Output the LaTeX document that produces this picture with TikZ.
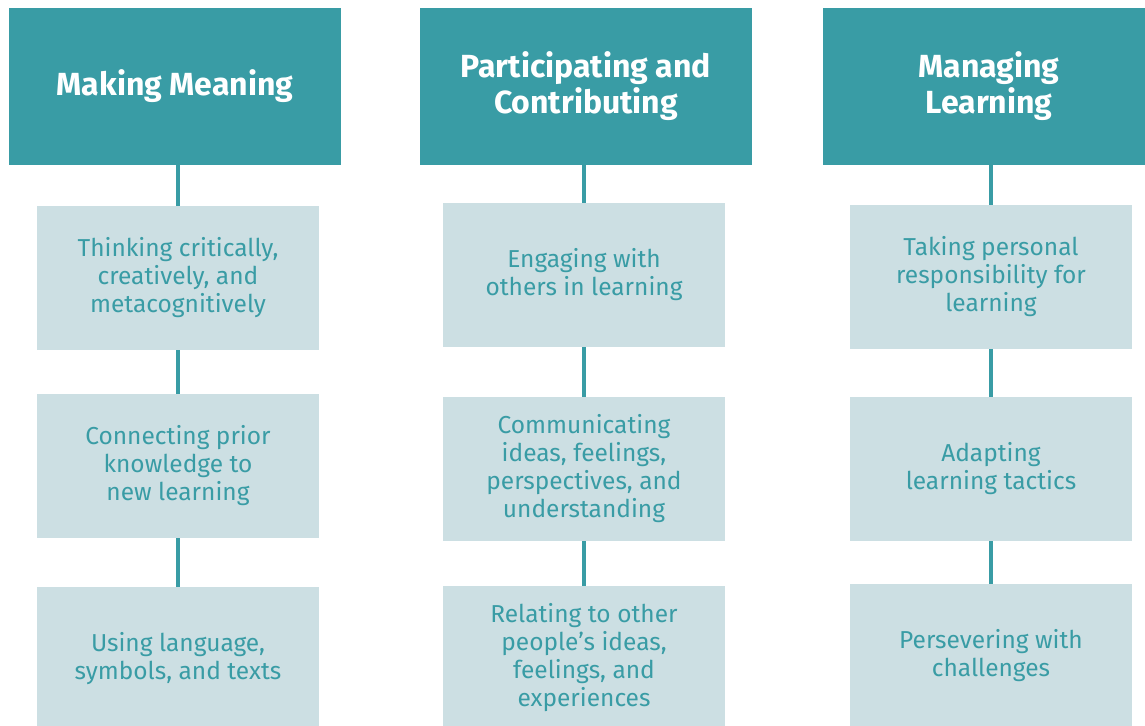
\documentclass[tikz,border=0pt]{standalone}
\usepackage{fontspec}
\setmainfont{Fira Sans}
\definecolor{kcteal}{HTML}{399CA5}
\definecolor{kclight}{HTML}{CCDFE3}
\tikzset{
 head/.style={fill=kcteal, text=white, minimum width=332pt, minimum height=157pt, inner sep=0pt, align=center, font=\fontsize{32}{36}\selectfont\bfseries},
 part/.style={fill=kclight, text=kcteal, minimum width=282pt, minimum height=144pt, inner sep=0pt, align=center, font=\fontsize{24.5}{28}\selectfont},
 link/.style={kcteal, line width=4pt}
}
\begin{document}
\begin{tikzpicture}[x=1pt, y=-1pt]
 \useasboundingbox (0,0) rectangle (1145,725);
 % column heads
 \node[head] (h1) at (175,86.5) {Making Meaning};
 \node[head] (h2) at (586,86.5) {Participating and\\Contributing};
 \node[head] (h3) at (989,86.5) {Managing\\Learning};
 % first column
 \node[part] (a1) at (178,278) {Thinking critically,\\creatively, and\\metacognitively};
 \node[part] (a2) at (178,466) {Connecting prior\\knowledge to\\new learning};
 \node[part] (a3) at (178,659) {Using language,\\symbols, and texts};
 % second column
 \node[part] (b1) at (584,275) {Engaging with\\others in learning};
 \node[part] (b2) at (584,469) {Communicating\\ideas, feelings,\\perspectives, and\\understanding};
 \node[part] (b3) at (584,658) {Relating to other\\people’s ideas,\\feelings, and\\experiences};
 % third column
 \node[part] (c1) at (991,277) {Taking personal\\responsibility for\\learning};
 \node[part] (c2) at (991,469) {Adapting\\learning tactics};
 \node[part] (c3) at (991,656) {Persevering with\\challenges};
 \foreach \c/\h in {a/h1,b/h2,c/h3}
 {
     \draw[link] (\c1.north) -- (\c1.north |- \h.south);
     \draw[link] (\c1) -- (\c2);
     \draw[link] (\c2) -- (\c3);
 }
\end{tikzpicture}
\end{document}
